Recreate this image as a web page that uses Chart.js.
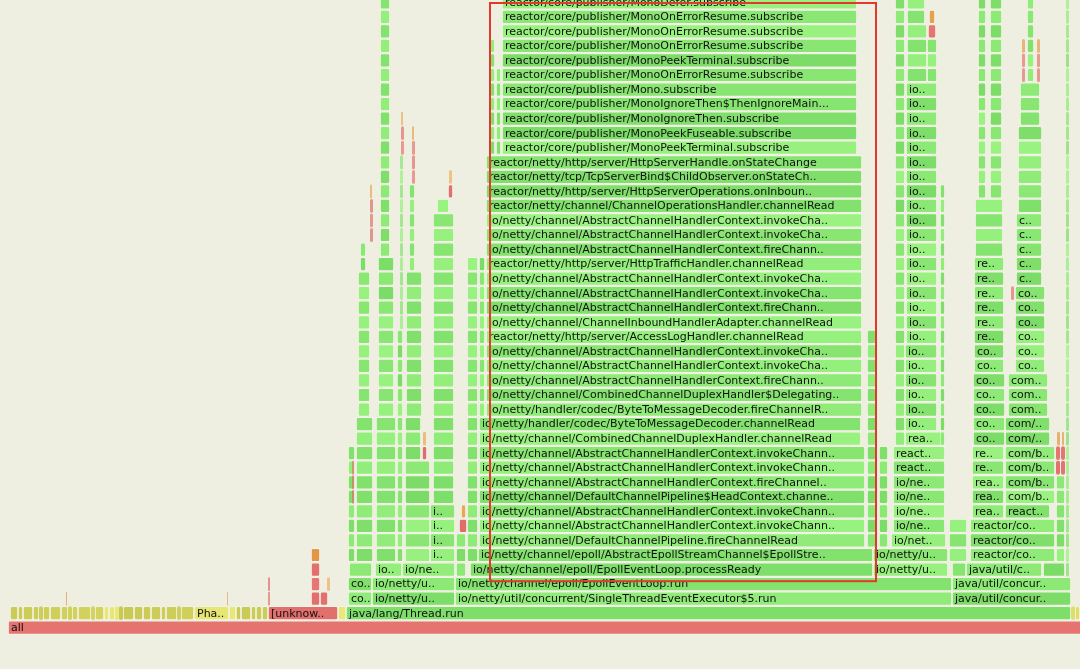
<!DOCTYPE html>
<html>
<head>
<meta charset="utf-8">
<title>Flame graph</title>
<script src="https://cdn.jsdelivr.net/npm/chart.js@4"></script>
<style>
  html, body { margin: 0; padding: 0; background: #efefe1; overflow: hidden; }
  #wrap { position: absolute; left: 0; top: -5px; width: 1080px; height: 640px; }
</style>
</head>
<body>
<div id="wrap"><canvas id="flame"></canvas></div>
<script>
// ─── DATA ──────────────────────────────────────────────────
// stack depth 0 = bottom row ("all"); x in samples
const DEPTHS = 44;

// the hot stack inside the red box, depth 2..43
const mainLabels = [
  'io/netty/util/concurrent/SingleThreadEventExecutor$5.run',
  'io/netty/channel/epoll/EpollEventLoop.run',
  'io/netty/channel/epoll/EpollEventLoop.processReady',
  'io/netty/channel/epoll/AbstractEpollStreamChannel$EpollStre..',
  'io/netty/channel/DefaultChannelPipeline.fireChannelRead',
  'io/netty/channel/AbstractChannelHandlerContext.invokeChann..',
  'io/netty/channel/AbstractChannelHandlerContext.invokeChann..',
  'io/netty/channel/DefaultChannelPipeline$HeadContext.channe..',
  'io/netty/channel/AbstractChannelHandlerContext.fireChannel..',
  'io/netty/channel/AbstractChannelHandlerContext.invokeChann..',
  'io/netty/channel/AbstractChannelHandlerContext.invokeChann..',
  'io/netty/channel/CombinedChannelDuplexHandler.channelRead',
  'io/netty/handler/codec/ByteToMessageDecoder.channelRead',
  'io/netty/handler/codec/ByteToMessageDecoder.fireChannelR..',
  'io/netty/channel/CombinedChannelDuplexHandler$Delegating..',
  'io/netty/channel/AbstractChannelHandlerContext.fireChann..',
  'io/netty/channel/AbstractChannelHandlerContext.invokeCha..',
  'io/netty/channel/AbstractChannelHandlerContext.invokeCha..',
  'reactor/netty/http/server/AccessLogHandler.channelRead',
  'io/netty/channel/ChannelInboundHandlerAdapter.channelRead',
  'io/netty/channel/AbstractChannelHandlerContext.fireChann..',
  'io/netty/channel/AbstractChannelHandlerContext.invokeCha..',
  'io/netty/channel/AbstractChannelHandlerContext.invokeCha..',
  'reactor/netty/http/server/HttpTrafficHandler.channelRead',
  'io/netty/channel/AbstractChannelHandlerContext.fireChann..',
  'io/netty/channel/AbstractChannelHandlerContext.invokeCha..',
  'io/netty/channel/AbstractChannelHandlerContext.invokeCha..',
  'reactor/netty/channel/ChannelOperationsHandler.channelRead',
  'reactor/netty/http/server/HttpServerOperations.onInboun..',
  'reactor/netty/tcp/TcpServerBind$ChildObserver.onStateCh..',
  'reactor/netty/http/server/HttpServerHandle.onStateChange',
  'reactor/core/publisher/MonoPeekTerminal.subscribe',
  'reactor/core/publisher/MonoPeekFuseable.subscribe',
  'reactor/core/publisher/MonoIgnoreThen.subscribe',
  'reactor/core/publisher/MonoIgnoreThen$ThenIgnoreMain...',
  'reactor/core/publisher/Mono.subscribe',
  'reactor/core/publisher/MonoOnErrorResume.subscribe',
  'reactor/core/publisher/MonoPeekTerminal.subscribe',
  'reactor/core/publisher/MonoOnErrorResume.subscribe',
  'reactor/core/publisher/MonoOnErrorResume.subscribe',
  'reactor/core/publisher/MonoOnErrorResume.subscribe',
  'reactor/core/publisher/MonoDefer.subscribe',
];
// [fromDepth, toDepth, start, samples] for the hot stack
const mainSpans = [
  [2, 3, 455, 497],
  [4, 4, 470, 403],
  [5, 5, 478, 395],
  [6, 12, 479, 386],
  [13, 14, 479, 382],
  [15, 32, 486, 376],
  [33, 43, 502, 355],
];

// runs of stacked frames: [fromDepth, toDepth, start, samples, label, kind]
const baseRuns = [
  [0, 0, 8, 1100, 'all', 'native'],
  [1, 1, 346, 725, 'java/lang/Thread.run', 'thread'],
  [1, 1, 268, 70, '[unknow..', 'native'],
  [1, 1, 194, 35, 'Pha..', 'cpp'],
  [2, 4, 311, 9, '', 'native'],
  [5, 5, 311, 9, '', 'kernel'],
  [2, 2, 320, 8, '', 'native'],
  [3, 3, 327, 3, '', 'kernel'],
  [2, 3, 268, 2, '', 'native'],
  [2, 2, 66, 1, '', 'kernel'],
  [2, 2, 227, 1, '', 'kernel'],
];

// compiled-code slivers on depth 1: [start, samples]
const cppSlivers = [
  [10, 8], [18, 5], [23, 10], [33, 6], [39, 4], [43, 7], [50, 11], [61, 7],
  [68, 4], [72, 6], [78, 13], [91, 4], [95, 9], [104, 5], [109, 6], [115, 4],
  [119, 4], [123, 11], [134, 9], [143, 8], [151, 10], [161, 5], [166, 11],
  [177, 4], [181, 13], [229, 7], [236, 5], [241, 10], [251, 5], [256, 6],
  [262, 6], [338, 8], [1071, 4], [1075, 5],
];

const leftRuns = [
  [2, 3, 348, 24, 'co..', 'java'],
  [2, 3, 372, 83, 'io/netty/u..', 'java'],
  [4, 4, 349, 23, '', 'java'],
  [4, 4, 375, 27, 'io..', 'java'],
  [4, 4, 402, 53, 'io/ne..', 'java'],
  [5, 12, 348, 7, '', 'java'],
  [5, 14, 356, 17, '', 'java'],
  [15, 24, 358, 12, '', 'java'],
  [25, 26, 360, 6, '', 'java'],
  [27, 29, 370, 3, '', 'native'],
  [30, 30, 370, 2, '', 'kernel'],
  [9, 11, 352, 2, '', 'native'],
  [5, 14, 376, 20, '', 'java'],
  [15, 25, 378, 16, '', 'java'],
  [26, 43, 380, 10, '', 'java'],
  [5, 20, 397, 6, '', 'java'],
  [21, 32, 400, 3, '', 'java'],
  [33, 34, 401, 3, '', 'native'],
  [35, 35, 401, 2, '', 'kernel'],
  [5, 11, 405, 25, '', 'java'],
  [12, 14, 405, 16, '', 'java'],
  [12, 12, 422, 5, '', 'native'],
  [13, 13, 423, 3, '', 'kernel'],
  [15, 24, 406, 16, '', 'java'],
  [25, 30, 409, 6, '', 'java'],
  [31, 33, 412, 3, '', 'native'],
  [34, 34, 412, 2, '', 'kernel'],
  [5, 8, 430, 25, 'i..', 'java'],
  [9, 28, 433, 21, '', 'java'],
  [29, 29, 437, 12, '', 'java'],
  [30, 30, 448, 5, '', 'native'],
  [31, 31, 449, 3, '', 'kernel'],
  [4, 6, 456, 10, '', 'java'],
  [7, 7, 459, 8, '', 'native'],
  [8, 8, 461, 5, '', 'kernel'],
  [5, 25, 467, 11, '', 'java'],
  [15, 25, 479, 6, '', 'java'],
  [33, 40, 490, 5, '', 'java'],
  [33, 38, 496, 5, '', 'java'],
];

const rightRuns = [
  [4, 5, 873, 75, 'io/netty/u..', 'java'],
  [6, 6, 891, 55, 'io/net..', 'java'],
  [7, 10, 893, 52, 'io/ne..', 'java'],
  [11, 12, 893, 52, 'react..', 'java'],
  [13, 13, 905, 40, 'rea..', 'java'],
  [14, 19, 905, 32, 'io..', 'java'],
  [20, 37, 906, 31, 'io..', 'java'],
  [38, 41, 907, 20, '', 'java'],
  [38, 40, 927, 10, '', 'java'],
  [41, 41, 928, 8, '', 'native'],
  [42, 42, 929, 6, '', 'kernel'],
  [42, 43, 907, 18, '', 'java'],
  [13, 43, 895, 10, '', 'java'],
  [6, 20, 867, 10, '', 'java'],
  [6, 12, 879, 9, '', 'java'],
  [13, 30, 940, 5, '', 'java'],
  [5, 7, 949, 18, '', 'java'],
  [2, 3, 952, 119, 'java/util/concur..', 'java'],
  [4, 4, 952, 14, '', 'java'],
  [4, 4, 966, 76, 'java/util/c..', 'java'],
  [4, 4, 1043, 22, '', 'java'],
  [5, 7, 970, 85, 'reactor/co..', 'java'],
  [8, 8, 972, 32, 'rea..', 'java'],
  [8, 8, 1005, 45, 'react..', 'java'],
  [9, 10, 972, 32, 'rea..', 'java'],
  [9, 12, 1005, 50, 'com/b..', 'java'],
  [11, 12, 972, 32, 're..', 'java'],
  [13, 14, 973, 32, 'co..', 'java'],
  [13, 14, 1005, 45, 'com/..', 'java'],
  [15, 17, 973, 32, 'co..', 'java'],
  [15, 17, 1008, 40, 'com..', 'java'],
  [18, 19, 974, 30, 'co..', 'java'],
  [18, 23, 1015, 30, 'co..', 'java'],
  [20, 25, 974, 30, 're..', 'java'],
  [24, 28, 1016, 26, 'c..', 'java'],
  [26, 29, 975, 28, '', 'java'],
  [30, 43, 978, 8, '', 'java'],
  [30, 43, 990, 12, '', 'java'],
  [29, 34, 1018, 24, '', 'java'],
  [35, 37, 1020, 20, '', 'java'],
  [38, 43, 1027, 7, '', 'java'],
  [38, 39, 1022, 3, '', 'native'],
  [40, 40, 1022, 3, '', 'kernel'],
  [38, 39, 1037, 3, '', 'native'],
  [40, 40, 1037, 3, '', 'kernel'],
  [23, 23, 1011, 3, '', 'native'],
  [5, 10, 1056, 9, '', 'java'],
  [11, 12, 1056, 4, '', 'native'],
  [11, 12, 1061, 4, '', 'native'],
  [13, 13, 1057, 3, '', 'kernel'],
  [13, 13, 1062, 2, '', 'kernel'],
  [4, 43, 1066, 3, '', 'java'],
];

// the hand-drawn highlight round the hot stack
const highlightX = [490, 876];
const highlightDepth = [3.2, 42.95];

// ─── BUILD FRAMES ──────────────────────────────────────────
function expandRuns(runs) {
  const out = [];
  runs.forEach(([d0, d1, start, n, label, kind]) => {
    for (let d = d0; d <= d1; d++) out.push({ x: [start, start + n], y: String(d), label, kind });
  });
  return out;
}

const frames = [];
frames.push(...expandRuns(baseRuns));
cppSlivers.forEach(([s, n]) => frames.push({ x: [s, s + n], y: '1', label: '', kind: 'cpp' }));
mainSpans.forEach(([d0, d1, s, n]) => {
  for (let d = d0; d <= d1; d++) frames.push({ x: [s, s + n], y: String(d), label: mainLabels[d - 2], kind: 'java' });
});
frames.push(...expandRuns(leftRuns));
frames.push(...expandRuns(rightRuns));

// ─── COLOURS ───────────────────────────────────────────────
function shade(f) {
  // stable per-frame tint so neighbouring boxes differ a little
  const key = f.label + '|' + f.y + '|' + f.x[0];
  let h = 0;
  for (let i = 0; i < key.length; i++) h = (h * 31 + key.charCodeAt(i)) >>> 0;
  return (h % 1000) / 1000;
}

function frameColour(f) {
  const t = shade(f);
  const a = f.x[1] - f.x[0] < 4 ? 0.7 : 1;   // hairline frames look washed out
  switch (f.kind) {
    case 'thread': return 'rgb(126,222,106)';
    case 'native': return `rgba(${222 + Math.round(t * 8)},${108 + Math.round(t * 10)},${106 + Math.round(t * 8)},${a})`;
    case 'kernel': return `rgba(${228 + Math.round(t * 8)},${150 + Math.round(t * 25)},${72 + Math.round(t * 20)},${a})`;
    case 'cpp':    return `rgba(${200 + Math.round(t * 32)},${200 + Math.round(t * 32)},${84 + Math.round(t * 36)},${a})`;
    default:       return `rgba(${122 + Math.round(t * 32)},${219 + Math.round(t * 24)},${102 + Math.round(t * 26)},${a})`;
  }
}

// ─── PLUGINS ───────────────────────────────────────────────
const frameLabels = {
  id: 'frameLabels',
  afterDatasetsDraw(chart) {
    const { ctx } = chart;
    const meta = chart.getDatasetMeta(0);
    ctx.save();
    ctx.font = '11px "DejaVu Sans", Verdana, sans-serif';
    ctx.fillStyle = '#111';
    ctx.textBaseline = 'middle';
    meta.data.forEach((bar, i) => {
      const f = frames[i];
      if (!f.label) return;
      const p = bar.getProps(['x', 'y', 'base', 'height'], true);
      const left = Math.min(p.x, p.base), right = Math.max(p.x, p.base);
      ctx.save();
      ctx.beginPath();
      ctx.rect(left, p.y - p.height / 2, right - left - 2, p.height);
      ctx.clip();
      ctx.fillText(f.label, left + 3, p.y + 0.5);
      ctx.restore();
    });
    ctx.restore();
  },
};

const highlight = {
  id: 'highlight',
  afterDraw(chart) {
    const { ctx, scales: { x, y } } = chart;
    const l = x.getPixelForValue(highlightX[0]), r = x.getPixelForValue(highlightX[1]);
    const b = y.getPixelForValue(highlightDepth[0]), t = y.getPixelForValue(highlightDepth[1]);
    ctx.save();
    ctx.strokeStyle = '#e4382c';
    ctx.lineWidth = 2;
    ctx.strokeRect(l, t, r - l, b - t);
    ctx.restore();
  },
};

// ─── CHART ─────────────────────────────────────────────────
new Chart(document.getElementById('flame'), {
  type: 'bar',
  data: {
    labels: Array.from({ length: DEPTHS }, (_, i) => String(i)),
    datasets: [{
      data: frames,
      backgroundColor: c => frameColour(c.raw),
      borderColor: 'rgba(246,246,236,0.9)',
      borderWidth: c => (c.raw && c.raw.x[1] - c.raw.x[0] >= 5 ? 0.8 : 0),
      borderRadius: 2,
      borderSkipped: false,
      categoryPercentage: 1,
      barPercentage: 0.95,
    }],
  },
  options: {
    indexAxis: 'y',
    responsive: true,
    maintainAspectRatio: false,
    animation: false,
    layout: { padding: 0 },
    plugins: { legend: { display: false }, tooltip: { enabled: false } },
    scales: {
      x: { type: 'linear', min: 0, max: 1080, display: false },
      y: { type: 'category', reverse: true, display: false },
    },
  },
  plugins: [frameLabels, highlight],
});
</script>
</body>
</html>
